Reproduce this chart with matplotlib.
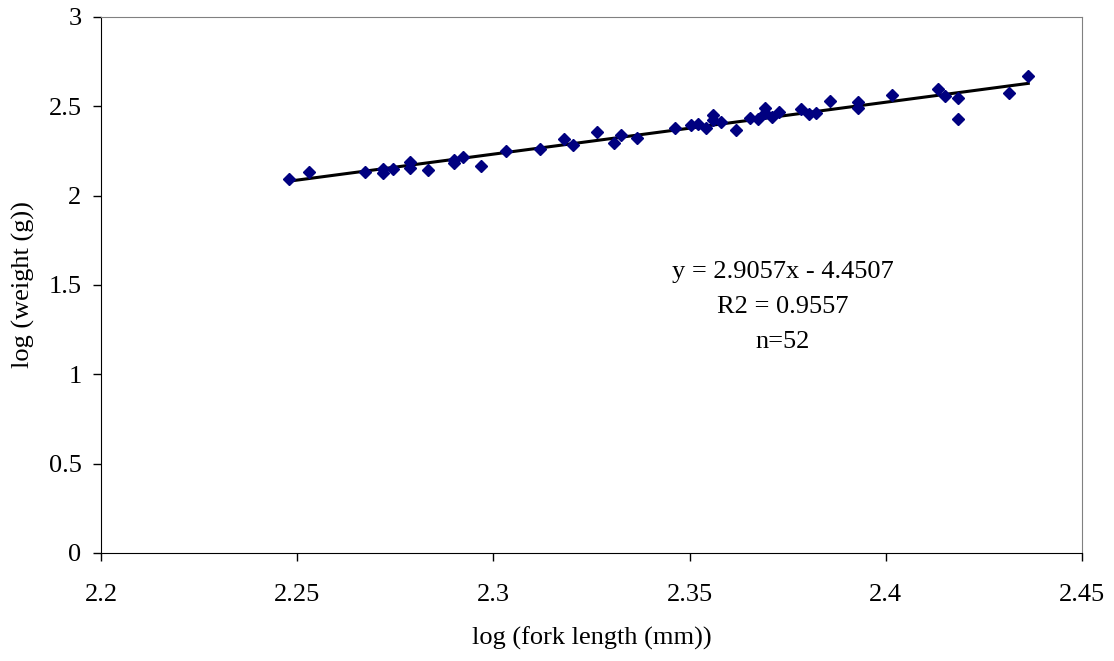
import matplotlib
matplotlib.use("Agg")
import matplotlib.pyplot as plt
import numpy as np

# log fork length (mm) and log weight (g)
log_length = [2.2480, 2.2530, 2.2673, 2.2719, 2.2719, 2.2743, 2.2788, 2.2788,
              2.2834, 2.2900, 2.2900, 2.2923, 2.2968, 2.3032, 2.3119, 2.3181,
              2.3202, 2.3265, 2.3306, 2.3324, 2.3365, 2.3463, 2.3503, 2.3522,
              2.3542, 2.3560, 2.3560, 2.3580, 2.3618, 2.3654, 2.3675, 2.3692,
              2.3692, 2.3711, 2.3729, 2.3785, 2.3803, 2.3822, 2.3858, 2.3928,
              2.3928, 2.4016, 2.4134, 2.4151, 2.4184, 2.4184, 2.4315, 2.4363]
log_weight = [2.0916, 2.1324, 2.1324, 2.1475, 2.1251, 2.1509, 2.1901, 2.1548,
              2.1436, 2.1996, 2.1811, 2.2147, 2.1677, 2.2516, 2.2594, 2.3154,
              2.2835, 2.3546, 2.2930, 2.3395, 2.3244, 2.3770, 2.3938, 2.3994,
              2.3803, 2.4514, 2.4235, 2.4139, 2.3675, 2.4329, 2.4290, 2.4889,
              2.4609, 2.4419, 2.4665, 2.4867, 2.4587, 2.4609, 2.5314, 2.5226,
              2.4923, 2.5650, 2.5970, 2.5578, 2.5448, 2.4307, 2.5763, 2.6680]

slope, intercept = 2.9057, -4.4507
annot = ["y = 2.9057x - 4.4507", "R2 = 0.9557", "n=52"]

x_ticks = [2.2, 2.25, 2.3, 2.35, 2.4, 2.45]
x_labels = ["2.2", "2.25", "2.3", "2.35", "2.4", "2.45"]
y_ticks = [0, 0.5, 1, 1.5, 2, 2.5, 3]
y_labels = ["0", "0.5", "1", "1.5", "2", "2.5", "3"]

plt.rcParams['font.family'] = ['Liberation Serif', 'DejaVu Serif']

fig = plt.figure(figsize=(11.14, 6.61), dpi=100)
ax = fig.add_axes([0.0907, 0.1634, 0.9713 - 0.0907, 0.9743 - 0.1634])

# Trend line over the data range
xs = np.array([min(log_length), max(log_length)])
ax.plot(xs, slope * xs + intercept, color='black', lw=2.2, zorder=2)
ax.plot(log_length, log_weight, 'D', color='#000080', ms=6.5, mec='#000080', zorder=3)

ax.set_xlim(2.2, 2.45)
ax.set_ylim(0, 3)
ax.set_xticks(x_ticks)
ax.set_xticklabels(x_labels)
ax.set_yticks(y_ticks)
ax.set_yticklabels(y_labels)
ax.tick_params(direction='out', length=6, width=1, labelsize=19)
ax.tick_params(axis='x', pad=16)
ax.tick_params(axis='y', pad=8)

for s in ['top', 'right']:
    ax.spines[s].set_color('#808080')
for s in ['left', 'bottom']:
    ax.spines[s].set_color('black')

ax.set_xlabel("log (fork length (mm))", fontsize=19, labelpad=15)
ax.set_ylabel("log (weight (g))", fontsize=19, labelpad=10)

# Equation text block
for i, line in enumerate(annot):
    ax.text(2.3738, 1.573 - i * 0.196, line, ha='center', va='center', fontsize=19)

fig.savefig("out.png", dpi=100)
